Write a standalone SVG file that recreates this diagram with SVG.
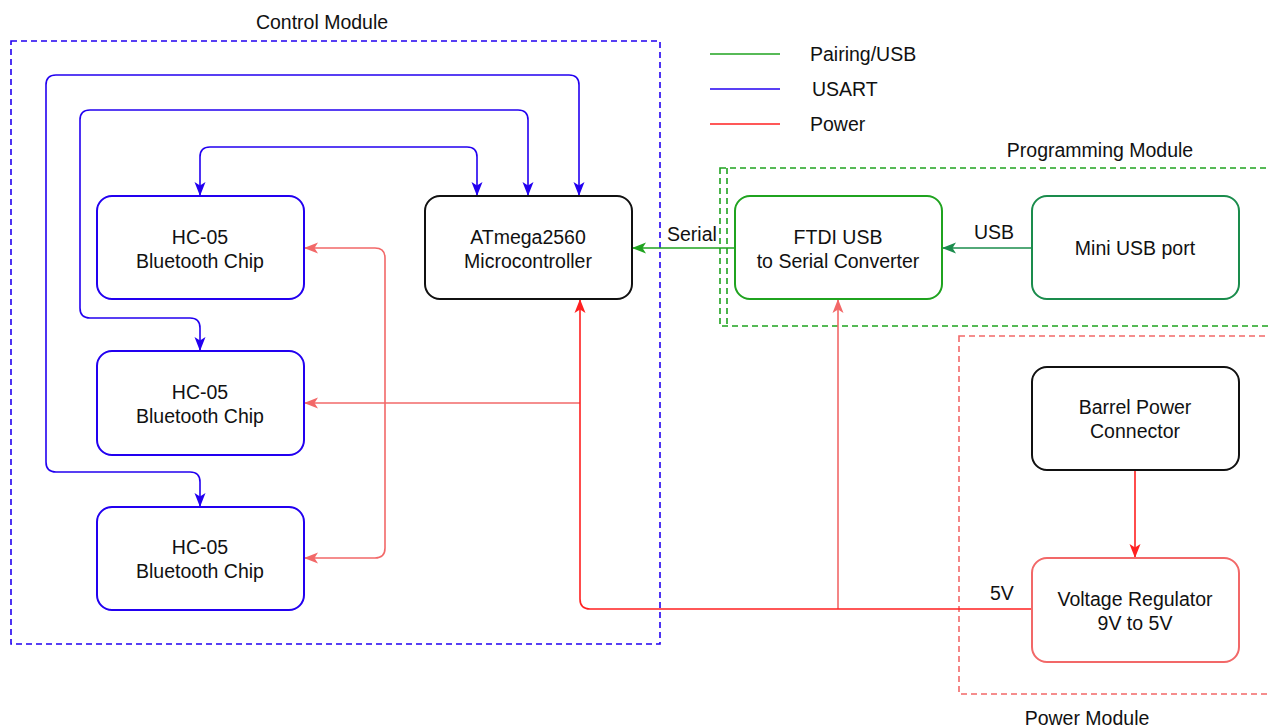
<svg xmlns="http://www.w3.org/2000/svg" width="1268" height="728" viewBox="0 0 1268 728">
<style>
text{font-family:"Liberation Sans",Arial,sans-serif;font-size:19.5px;fill:#111;}
.c{text-anchor:middle;}
.node{fill:#fff;stroke-width:2;}
.grp{fill:none;stroke-width:1.6;stroke-dasharray:6 4;}
.conn{fill:none;stroke-width:1.6;}
.blue{stroke:#2200f0;}
.lred{stroke:#f26868;}
.red{stroke:#ff2020;}
.green{stroke:#1fa31f;}
.dgreen{stroke:#1a8c4c;}
</style>
<defs>
<marker id="aB" markerUnits="userSpaceOnUse" markerWidth="14" markerHeight="14" refX="14" refY="7" orient="auto-start-reverse"><path d="M0,1.5 L14,7 L0,12.5 L3.5,7 z" fill="#2200f0"/></marker>
<marker id="aLR" markerUnits="userSpaceOnUse" markerWidth="14" markerHeight="14" refX="14" refY="7" orient="auto-start-reverse"><path d="M0,1.5 L14,7 L0,12.5 L3.5,7 z" fill="#f26868"/></marker>
<marker id="aR" markerUnits="userSpaceOnUse" markerWidth="14" markerHeight="14" refX="14" refY="7" orient="auto-start-reverse"><path d="M0,1.5 L14,7 L0,12.5 L3.5,7 z" fill="#ff2020"/></marker>
<marker id="aG" markerUnits="userSpaceOnUse" markerWidth="14" markerHeight="14" refX="14" refY="7" orient="auto-start-reverse"><path d="M0,1.5 L14,7 L0,12.5 L3.5,7 z" fill="#1fa31f"/></marker>
<marker id="aDG" markerUnits="userSpaceOnUse" markerWidth="14" markerHeight="14" refX="14" refY="7" orient="auto-start-reverse"><path d="M0,1.5 L14,7 L0,12.5 L3.5,7 z" fill="#1a8c4c"/></marker>
</defs>
<rect width="1268" height="728" fill="#fff"/>

<g id="groups">
<rect class="grp" x="11" y="41" width="649" height="603" stroke="#2200f0"/>
<text class="c" x="322" y="29">Control Module</text>
<rect class="grp" x="720" y="168" width="560" height="158" stroke="#1fa31f"/>
<line class="grp" x1="727" y1="168" x2="727" y2="326" stroke="#1fa31f"/>
<text class="c" x="1100" y="157">Programming Module</text>
<rect class="grp" x="959" y="336" width="320" height="358" stroke="#f26868"/>
<text class="c" x="1087" y="725">Power Module</text>
</g>

<g id="legend">
<line x1="710" y1="54" x2="780" y2="54" stroke="#1fa31f" stroke-width="1.6"/>
<line x1="710" y1="89" x2="780" y2="89" stroke="#2200f0" stroke-width="1.6"/>
<line x1="710" y1="124" x2="780" y2="124" stroke="#ff2020" stroke-width="1.6"/>
<text x="810" y="61">Pairing/USB</text>
<text x="812" y="96">USART</text>
<text x="810" y="131">Power</text>
</g>

<g id="connectors">
<path class="conn blue" d="M200,196 V157 Q200,147 210,147 H467 Q477,147 477,157 V196" marker-start="url(#aB)" marker-end="url(#aB)"/>
<path class="conn blue" d="M528,196 V120 Q528,110 518,110 H90 Q80,110 80,120 V308 Q80,318 90,318 H190 Q200,318 200,328 V351" marker-start="url(#aB)" marker-end="url(#aB)"/>
<path class="conn blue" d="M579,196 V85 Q579,75 569,75 H56 Q46,75 46,85 V462 Q46,472 56,472 H190 Q200,472 200,482 V507" marker-start="url(#aB)" marker-end="url(#aB)"/>
<path class="conn lred" d="M304,248 H375 Q385,248 385,258 V548 Q385,558 375,558 H304" marker-start="url(#aLR)" marker-end="url(#aLR)"/>
<path class="conn lred" d="M580,403 H304" marker-end="url(#aLR)"/>
<path class="conn lred" d="M838,609 V299" marker-end="url(#aLR)"/>
<path class="conn red" d="M1032,609 H590 Q580,609 580,599 V299" marker-end="url(#aR)"/>
<path class="conn red" d="M1135,470 V558" marker-end="url(#aR)"/>
<path class="conn green" d="M735,248 H632" marker-end="url(#aG)"/>
<path class="conn dgreen" d="M1032,248 H942" marker-end="url(#aDG)"/>
<text x="667" y="241">Serial</text>
<text x="974" y="239">USB</text>
<text x="990" y="600">5V</text>
</g>

<g id="hc05-1">
<rect class="node" x="97" y="196" width="207" height="103" rx="15" stroke="#2200f0"/>
<text class="c" x="200" y="244">HC-05</text>
<text class="c" x="200" y="268">Bluetooth Chip</text>
</g>
<g id="hc05-2">
<rect class="node" x="97" y="351" width="207" height="104" rx="15" stroke="#2200f0"/>
<text class="c" x="200" y="399">HC-05</text>
<text class="c" x="200" y="423">Bluetooth Chip</text>
</g>
<g id="hc05-3">
<rect class="node" x="97" y="507" width="207" height="103" rx="15" stroke="#2200f0"/>
<text class="c" x="200" y="554">HC-05</text>
<text class="c" x="200" y="578">Bluetooth Chip</text>
</g>
<g id="atmega">
<rect class="node" x="425" y="196" width="207" height="103" rx="15" stroke="#111"/>
<text class="c" x="528" y="244">ATmega2560</text>
<text class="c" x="528" y="268">Microcontroller</text>
</g>
<g id="ftdi">
<rect class="node" x="735" y="196" width="207" height="103" rx="15" stroke="#1fa31f"/>
<text class="c" x="838" y="244">FTDI USB</text>
<text class="c" x="838" y="268">to Serial Converter</text>
</g>
<g id="miniusb">
<rect class="node" x="1032" y="196" width="207" height="103" rx="15" stroke="#1a8c4c"/>
<text class="c" x="1135" y="255">Mini USB port</text>
</g>
<g id="barrel">
<rect class="node" x="1032" y="367" width="207" height="103" rx="15" stroke="#111"/>
<text class="c" x="1135" y="414">Barrel Power</text>
<text class="c" x="1135" y="438">Connector</text>
</g>
<g id="regulator">
<rect class="node" x="1032" y="558" width="207" height="104" rx="15" stroke="#f26868"/>
<text class="c" x="1135" y="606">Voltage Regulator</text>
<text class="c" x="1135" y="630">9V to 5V</text>
</g>
</svg>
